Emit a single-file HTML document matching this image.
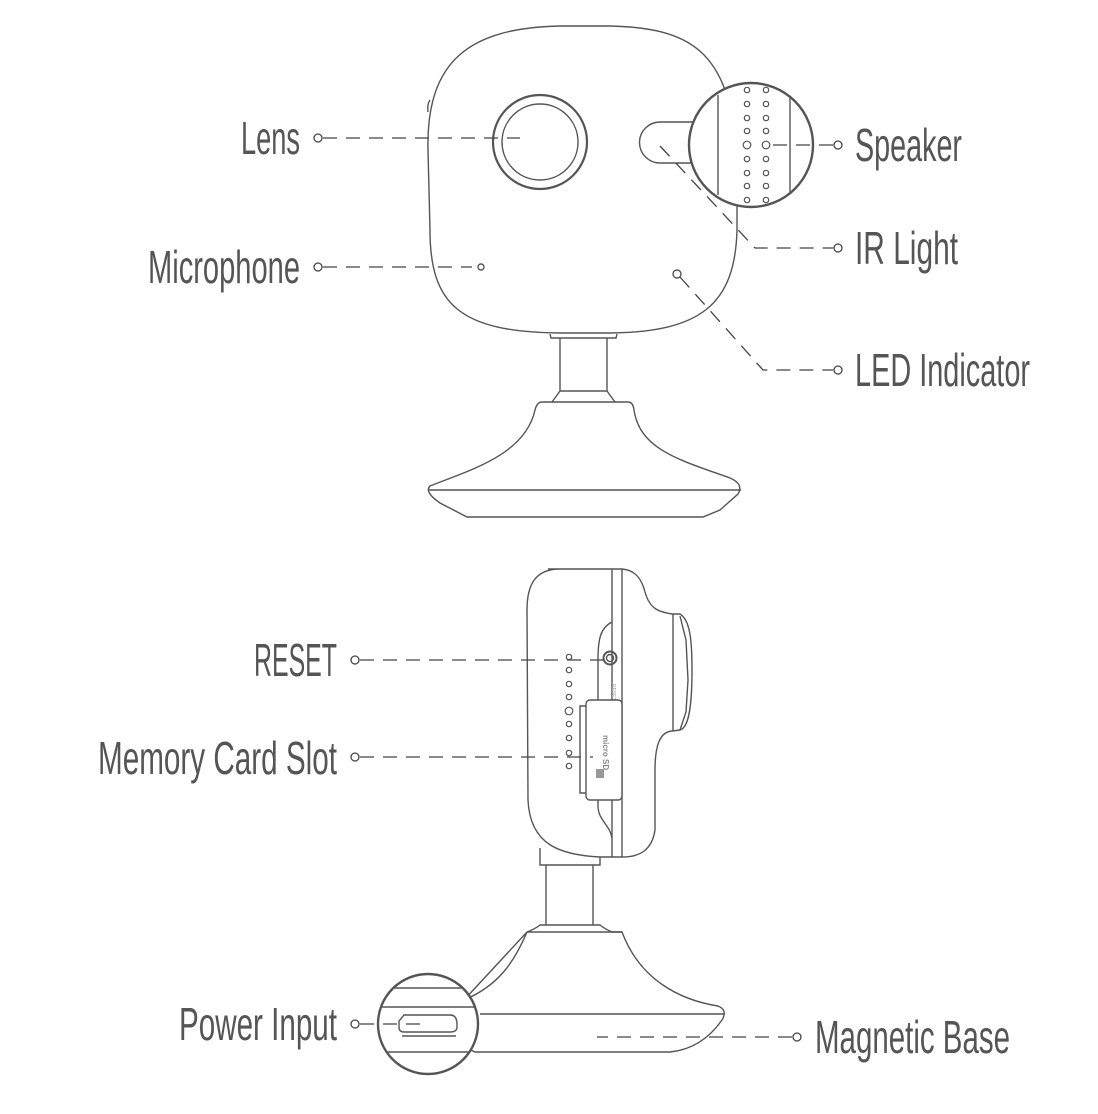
<!DOCTYPE html>
<html><head><meta charset="utf-8"><style>
html,body{margin:0;padding:0;background:#fff;}
svg{display:block;}
text{font-family:"Liberation Sans",sans-serif;font-size:46px;fill:#555;}
</style></head><body>
<svg width="1098" height="1114" viewBox="0 0 1098 1114" xmlns="http://www.w3.org/2000/svg">
<defs>
<clipPath id="pc"><circle cx="428" cy="1024" r="49"/></clipPath>
<clipPath id="sc"><circle cx="751" cy="145" r="61"/></clipPath>
</defs>
<g fill="none" stroke="#555" stroke-width="1.4">
<!-- TOP CAMERA -->
<path d="M428,150 C426,60 470,28 560,26 L610,26 C690,28 728,50 737,150 L737,230 C735,305 700,332 610,333 L560,333 C460,332 430,305 430,230 Z" fill="#fff"/>
<path d="M430,100 q-3,4 -2,12" />
<circle cx="540" cy="142" r="47" stroke-width="2.2"/>
<circle cx="540" cy="142" r="38"/>
<path d="M694,122 L660,122 a20.5,20.5 0 0 0 0,41 L694,163"/>
<circle cx="481" cy="267" r="3"/>
<circle cx="677" cy="274" r="4"/>
<path d="M550,334 L551,338 L616,338 L617,334"/>
<path d="M560,338 L560,391 L552,402 M607,338 L607,391 L615,402 M560,391 L607,391"/>
<path d="M542,402 L628,402 Q633,402 634,410 C640,450 680,460 730,478 Q744,484 738,494 L720,510 L703,517 L467,517 L440,503 Q424,492 430,486 C470,470 525,455 535,410 Q537,402 542,402 Z" fill="#fff"/>
<path d="M428,490 L741,490"/>
<circle cx="751" cy="145" r="62" fill="#fff" stroke-width="2.4"/>
<path d="M718,95 L718,195 M790,96 L790,193" clip-path="url(#sc)"/>
<g stroke-width="1.2">
<circle cx="747" cy="90" r="2.7"/><circle cx="766" cy="90" r="2.7"/>
<circle cx="747" cy="104" r="2.7"/><circle cx="766" cy="104" r="2.7"/>
<circle cx="747" cy="118" r="2.7"/><circle cx="766" cy="118" r="2.7"/>
<circle cx="747" cy="131" r="2.7"/><circle cx="766" cy="131" r="2.7"/>
<circle cx="747" cy="145" r="3.8"/><circle cx="766" cy="145" r="3.8"/>
<circle cx="747" cy="159" r="2.7"/><circle cx="766" cy="159" r="2.7"/>
<circle cx="747" cy="173" r="2.7"/><circle cx="766" cy="173" r="2.7"/>
<circle cx="747" cy="186" r="2.7"/><circle cx="766" cy="186" r="2.7"/>
<circle cx="747" cy="200" r="2.7"/><circle cx="766" cy="200" r="2.7"/>
</g>

<!-- BOTTOM CAMERA -->
<path d="M540,848 L540,865 L600,865 L600,848"/>
<path d="M546,865 L546,930 M593,865 L593,930"/>
<path d="M527,932 Q535,929 540,925 L600,925 Q605,929 612,932 L622,932 C640,980 680,1000 718,1006 Q728,1010 722,1020 C708,1040 690,1050 670,1052 L475,1052 L450,1040 M464,1000 C500,985 515,960 527,932 Z" fill="#fff"/>
<path d="M527,932 L622,932 M480,1014 L724,1014"/>
<path d="M548,569 L612,569 L622,569 C636,570 642,580 645,592 C650,610 660,612 672,614 L680,614 C690,620 692,640 692,670 C692,710 688,728 680,730 L672,731 C660,732 655,745 655,770 L655,830 C652,850 640,857 622,857 L600,857 C560,855 530,845 528,800 L527,610 C527,585 535,569 560,569 Z" fill="#fff"/>
<path d="M612,569 L612,857 M622,569 L622,857"/>
<path d="M612,622 C600,628 598,640 598,660 L598,700 M598,800 L598,806 C598,820 610,825 612,838"/>
<path d="M673,614 L673,731 M680,616 L686,640 L688,680 L686,712 L680,730"/>
<circle cx="610" cy="658" r="6.5" stroke-width="2"/>
<circle cx="610" cy="658" r="3.5"/>
<text x="0" y="0" transform="translate(612,684) rotate(90)" style="font-size:5px;fill:#999;stroke:none">RESET</text>
<rect x="586" y="700" width="36" height="100" rx="4" fill="#fff"/>
<path d="M586,706 L580,706 L580,793 L586,793"/>
<rect x="596" y="769" width="8" height="9" fill="#999" stroke="none"/>
<text x="0" y="0" transform="translate(603,735) rotate(90)" style="font-size:8px;fill:#888;stroke:none;font-weight:bold">micro SD</text>
<g stroke-width="1.2">
<circle cx="569" cy="657" r="2.7"/><circle cx="569" cy="670" r="2.7"/><circle cx="569" cy="684" r="2.7"/>
<circle cx="569" cy="697" r="2.7"/><circle cx="569" cy="711" r="3.8"/><circle cx="569" cy="724" r="2.7"/>
<circle cx="569" cy="738" r="2.7"/><circle cx="569" cy="753" r="2.7"/><circle cx="569" cy="766" r="2.7"/>
</g>
<circle cx="428" cy="1024" r="50" fill="#fff" stroke-width="2.4"/>
<path d="M370,988 L490,988 M370,1007 L490,1007 M370,1052 L490,1052" clip-path="url(#pc)"/>
<path d="M404,1015 L450,1015 Q457,1015 457,1024 L457,1027 Q457,1032 450,1032 L404,1032 Q399,1032 399,1027 L399,1021 Z"/>
<path d="M402,1036 L456,1036"/>
</g>

<g fill="none" stroke="#444" stroke-width="1.3" stroke-dasharray="14,9">
<path d="M323,138 L520,138"/>
<path d="M323,267 L472,267"/>
<path d="M833,145 L768,145"/>
<path d="M660,146 L755,248 L833,248"/>
<path d="M680,277 L763,370 L833,370"/>
<path d="M360,660 L610,660"/>
<path d="M360,757 L593,757"/>
<path d="M360,1024 L422,1024"/>
<path d="M792,1037 L597,1037"/>
</g>
<g fill="#fff" stroke="#444" stroke-width="1.3">
<circle cx="318" cy="138" r="4"/>
<circle cx="318" cy="267" r="4"/>
<circle cx="838" cy="145" r="4"/>
<circle cx="838" cy="248" r="4"/>
<circle cx="838" cy="370" r="4"/>
<circle cx="355" cy="660" r="4"/>
<circle cx="355" cy="757" r="4"/>
<circle cx="355" cy="1024" r="4"/>
<circle cx="797" cy="1037" r="4"/>
</g>

<text x="241" y="154" textLength="59" lengthAdjust="spacingAndGlyphs">Lens</text>
<text x="148" y="283" textLength="152" lengthAdjust="spacingAndGlyphs">Microphone</text>
<text x="855" y="161" textLength="107" lengthAdjust="spacingAndGlyphs">Speaker</text>
<text x="855" y="264" textLength="103" lengthAdjust="spacingAndGlyphs">IR Light</text>
<text x="855" y="386" textLength="175" lengthAdjust="spacingAndGlyphs">LED Indicator</text>
<text x="254" y="676" textLength="83" lengthAdjust="spacingAndGlyphs">RESET</text>
<text x="98" y="774" textLength="239" lengthAdjust="spacingAndGlyphs">Memory Card Slot</text>
<text x="179" y="1040" textLength="158" lengthAdjust="spacingAndGlyphs">Power Input</text>
<text x="815" y="1053" textLength="195" lengthAdjust="spacingAndGlyphs">Magnetic Base</text>
</svg>
</body></html>
